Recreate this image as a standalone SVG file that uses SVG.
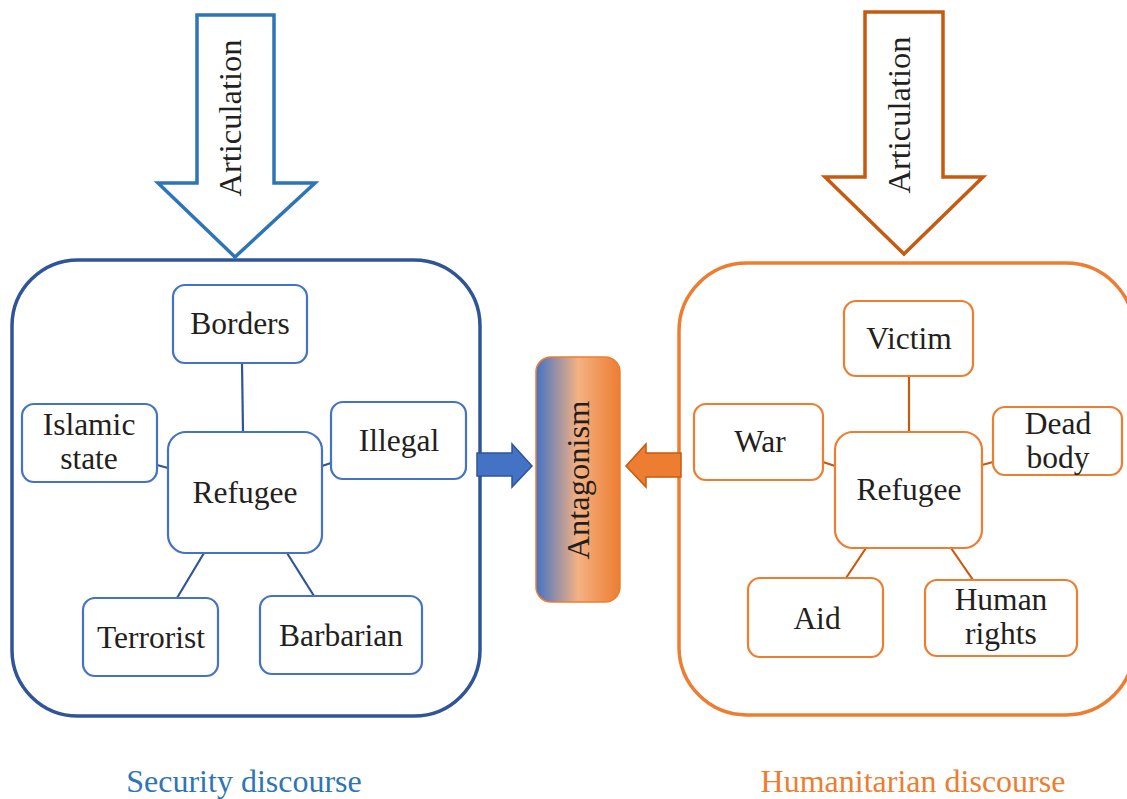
<svg xmlns="http://www.w3.org/2000/svg" width="1127" height="799" viewBox="0 0 1127 799">
<defs>
<linearGradient id="ag" x1="0" y1="0" x2="1" y2="0">
<stop offset="0" stop-color="#4472c4"/>
<stop offset="0.5" stop-color="#f4b183"/>
<stop offset="1" stop-color="#ed7d31"/>
</linearGradient>
</defs>
<style>
text{fill:#231f20;text-anchor:middle}
.n{font-size:31.5px}
.bn{fill:#fff;stroke:#4472c4;stroke-width:2.2}
.on{fill:#fff;stroke:#ed7d31;stroke-width:2.2}
.bl{stroke:#2f5597;stroke-width:2.2;fill:none}
.ol{stroke:#c55a11;stroke-width:2.2;fill:none}
</style>
<rect width="1127" height="799" fill="#fff"/>
<g font-family="Liberation Serif, DejaVu Serif, serif">

<g id="security-frame">
<rect x="12" y="260" width="468" height="456" rx="66" fill="none" stroke="#2f5597" stroke-width="3.5"/>
</g>
<g id="humanitarian-frame">
<rect x="679" y="263" width="455" height="452" rx="68" fill="none" stroke="#ed7d31" stroke-width="3.5"/>
</g>

<g id="articulation-left">
<path d="M197,15 L274,15 L274,183 L315,183 L235,257 L158,183 L197,183 Z" fill="#fff" stroke="#2e75b6" stroke-width="3.5"/>
<text transform="translate(241,118) rotate(-90)" font-size="32.5">Articulation</text>
</g>
<g id="articulation-right">
<path d="M865,12 L943,12 L943,177 L983,177 L904,254 L825,177 L865,177 Z" fill="#fff" stroke="#c55a11" stroke-width="3.5"/>
<text transform="translate(910,115) rotate(-90)" font-size="32.5">Articulation</text>
</g>

<g id="connectors">
<line class="bl" x1="242" y1="363" x2="243" y2="432"/>
<line class="bl" x1="157" y1="465" x2="168" y2="468"/>
<line class="bl" x1="322" y1="466" x2="331" y2="463"/>
<line class="bl" x1="204" y1="553" x2="177" y2="598"/>
<line class="bl" x1="287" y1="553" x2="314" y2="596"/>
<line class="ol" x1="909" y1="376" x2="909" y2="432"/>
<line class="ol" x1="823" y1="462" x2="835" y2="466"/>
<line class="ol" x1="982" y1="465" x2="993" y2="462"/>
<line class="ol" x1="866" y1="548" x2="846" y2="578"/>
<line class="ol" x1="951" y1="548" x2="973" y2="580"/>
<path d="M477,453 L512,453 L512,444 L532,466 L512,487 L512,476 L477,476 Z" fill="#4472c4" stroke="#2f5597" stroke-width="1.5"/>
<path d="M681,453 L646,453 L646,444 L626,466 L646,487 L646,477 L681,477 Z" fill="#ed7d31" stroke="#c55a11" stroke-width="1.5"/>
</g>

<g id="antagonism">
<rect x="536" y="357" width="84" height="245" rx="15" fill="url(#ag)" stroke="#ed7d31" stroke-width="1.5"/>
<text transform="translate(589,480) rotate(-90)" font-size="32.5">Antagonism</text>
</g>

<g id="borders"><rect class="bn" x="173" y="285" width="134" height="78" rx="12"/><text class="n" x="240" y="334">Borders</text></g>
<g id="islamic-state"><rect class="bn" x="22" y="404" width="135" height="78" rx="12"/><text class="n" x="89" y="435">Islamic</text><text class="n" x="89" y="469">state</text></g>
<g id="illegal"><rect class="bn" x="331" y="402" width="135" height="77" rx="12"/><text class="n" x="399" y="451">Illegal</text></g>
<g id="refugee-left"><rect class="bn" x="168" y="432" width="154" height="121" rx="18"/><text class="n" x="245" y="503">Refugee</text></g>
<g id="terrorist"><rect class="bn" x="83" y="598" width="135" height="78" rx="12"/><text class="n" x="151" y="648">Terrorist</text></g>
<g id="barbarian"><rect class="bn" x="260" y="596" width="162" height="78" rx="12"/><text class="n" x="341" y="646">Barbarian</text></g>

<g id="victim"><rect class="on" x="844" y="301" width="129" height="75" rx="12"/><text class="n" x="909" y="349">Victim</text></g>
<g id="war"><rect class="on" x="694" y="404" width="129" height="76" rx="12"/><text class="n" x="760" y="452">War</text></g>
<g id="dead-body"><rect class="on" x="993" y="407" width="129" height="68" rx="12"/><text class="n" x="1058" y="434">Dead</text><text class="n" x="1058" y="468">body</text></g>
<g id="human-rights"><rect class="on" x="925" y="580" width="152" height="76" rx="12"/><text class="n" x="1001" y="610" font-size="30.5">Human</text><text class="n" x="1001" y="644" font-size="30.5">rights</text></g>
<g id="refugee-right"><rect class="on" x="835" y="432" width="147" height="116" rx="18"/><text class="n" x="909" y="500">Refugee</text></g>
<g id="aid"><rect class="on" x="748" y="578" width="135" height="79" rx="12"/><text class="n" x="817" y="629">Aid</text></g>

<g id="labels">
<text x="244" y="792" font-size="32" style="fill:#2e75b6">Security discourse</text>
<text x="913" y="792" font-size="32" style="fill:#ed7d31">Humanitarian discourse</text>
</g>
</g>
</svg>
